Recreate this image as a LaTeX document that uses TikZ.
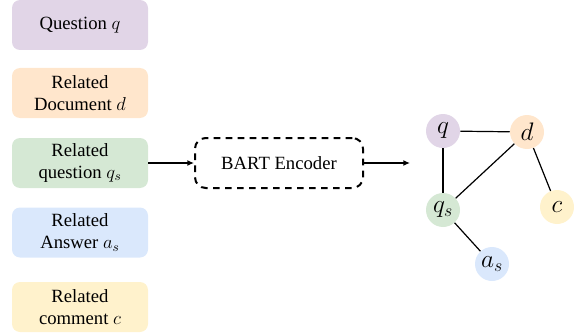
\RequirePackage{fix-cm}
\documentclass[tikz,border=0pt]{standalone}
\usepackage{fontspec}
\setmainfont{Liberation Serif}
\usetikzlibrary{arrows.meta}
\definecolor{cpurple}{HTML}{E1D5E7}
\definecolor{corange}{HTML}{FFE6CC}
\definecolor{cgreen}{HTML}{D5E8D4}
\definecolor{cblue}{HTML}{DAE8FC}
\definecolor{cyellow}{HTML}{FFF2CC}
\begin{document}
\begin{tikzpicture}[x=0.75pt,y=-0.75pt,
  inbox/.style={rounded corners=6pt, minimum width=102pt, minimum height=37.5pt, inner sep=0pt, align=center, font=\fontsize{14}{16}\selectfont},
  gnode/.style={circle, minimum size=25.5pt, inner sep=0pt, font=\fontsize{19}{21}\selectfont},
  arr/.style={-{Latex[length=5pt,width=4.5pt]}, line width=1pt},
  edge/.style={line width=0.9pt}]
\useasboundingbox (0,0) rectangle (574,335);
\node[inbox, fill=cpurple] (q1) at (80,25) {Question $q$};
\node[inbox, fill=corange] (d1) at (80,93) {Related\\Document $d$};
\node[inbox, fill=cgreen] (qs1) at (80,163) {Related\\question $q_s$};
\node[inbox, fill=cblue] (as1) at (80,232.5) {Related\\Answer $a_s$};
\node[inbox, fill=cyellow] (c1) at (80,307) {Related\\comment $c$};
\node[draw, dashed, line width=1.5pt, dash pattern=on 5pt off 4pt, rounded corners=8pt, minimum width=126pt, minimum height=37.5pt, font=\fontsize{14}{16}\selectfont] (enc) at (279,163) {BART Encoder};
\coordinate (out) at (410,163);
\draw[arr] (qs1.east) -- (enc.west);
\draw[arr] (enc.east) -- (out);
\node[gnode, fill=cpurple] (q) at (443,131) {$q$};
\node[gnode, fill=corange] (d) at (527,132) {$d$};
\node[gnode, fill=cgreen] (qs) at (443,210) {$q_s$};
\node[gnode, fill=cyellow] (c) at (557,207) {$c$};
\node[gnode, fill=cblue] (as) at (492,264) {$a_s$};
\draw[edge] (q) -- (d);
\draw[edge] (q) -- (qs);
\draw[edge] (d) -- (qs);
\draw[edge] (d) -- (c);
\draw[edge] (qs) -- (as);
\end{tikzpicture}
\end{document}
